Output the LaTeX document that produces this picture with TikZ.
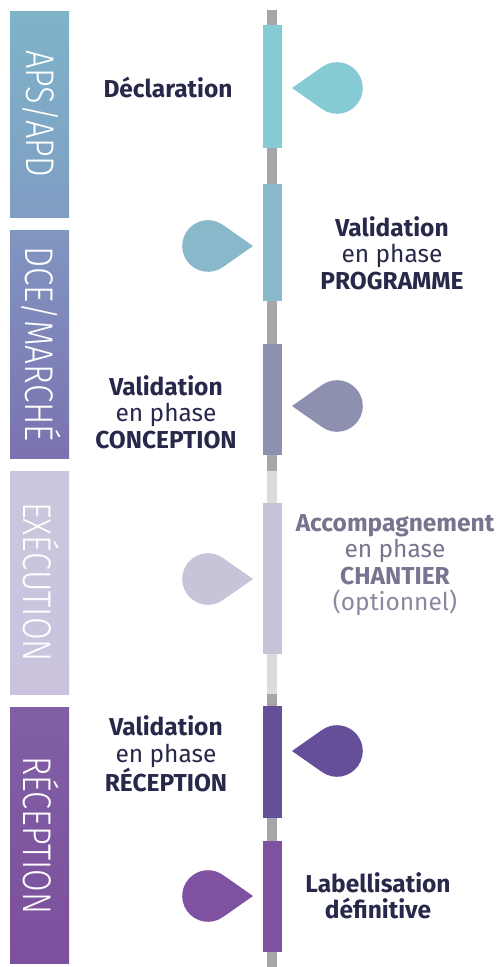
\documentclass[tikz,border=0pt]{standalone}
\usepackage{fontspec}
\setmainfont{Fira Sans}
\newfontfamily\lightfont{Fira Sans Light}
\usepackage{graphicx}
\definecolor{txtdark}{HTML}{27284A}
\definecolor{txtgray}{HTML}{77748F}
\definecolor{txtgrayl}{HTML}{8A879E}
\definecolor{linegray}{HTML}{A4A6A9}
\definecolor{linelight}{HTML}{DCDCDE}
\definecolor{cA}{HTML}{86CBD4}
\definecolor{cB}{HTML}{88B8C9}
\definecolor{cC}{HTML}{8E90B0}
\definecolor{cD}{HTML}{C5C4D8}
\definecolor{cE}{HTML}{654F98}
\definecolor{cF}{HTML}{7E52A0}
\tikzset{
  phaselbl/.style={rotate=-90, text=white, inner sep=0pt, anchor=center},
  bigtxt/.style={align=center, text=txtdark, inner sep=0pt, font=\fontsize{24.5}{26.5}\selectfont},
}
\newcommand{\dropR}[3]{% tip x, y, color : circle to the right
  \fill[#3] (#1,#2) -- ($(#1+45,#2)+(125.26:25.8)$) arc[start angle=125.26, end angle=-125.26, radius=25.8] -- cycle;}
\newcommand{\dropL}[3]{% tip x, y, color : circle to the left
  \fill[#3] (#1,#2) -- ($(#1-45,#2)+(54.74:25.8)$) arc[start angle=54.74, end angle=305.26, radius=25.8] -- cycle;}
\usetikzlibrary{calc}
\begin{document}
\begin{tikzpicture}[x=1pt,y=-1pt]
\useasboundingbox (0,0) rectangle (496,967);
% phase bands
\shade[top color={rgb,255:red,127;green,180;blue,201}, bottom color={rgb,255:red,127;green,157;blue,195}] (10,11) rectangle (69,217);
\shade[top color={rgb,255:red,129;green,150;blue,193}, bottom color={rgb,255:red,123;green,114;blue,176}] (10,230) rectangle (69,458);
\shade[top color={rgb,255:red,201;green,199;blue,221}, bottom color={rgb,255:red,203;green,195;blue,222}] (10,471) rectangle (69,694);
\shade[top color={rgb,255:red,128;green,96;blue,165}, bottom color={rgb,255:red,124;green,79;blue,156}] (10,707) rectangle (69,963);
\node[phaselbl] (p1) at (41,114) {\resizebox{127pt}{\height}{\fontsize{40}{40}\lightfont APS/APD}};
\node[phaselbl] (p2) at (41,344) {\resizebox{196pt}{\height}{\fontsize{40}{40}\lightfont DCE/MARCHÉ}};
\node[phaselbl] (p3) at (41,582) {\resizebox{160pt}{\height}{\fontsize{40}{40}\lightfont EXÉCUTION}};
\node[phaselbl] (p4) at (41,835) {\resizebox{158pt}{\height}{\fontsize{40}{40}\lightfont RÉCEPTION}};
% central line
\fill[linegray] (267,10) rectangle (277,471);
\fill[linelight] (267,471) rectangle (277,694);
\fill[linegray] (267,694) rectangle (277,967);
% bars
\fill[cA] (263,25) rectangle (282,148);
\fill[cB] (263,184) rectangle (282,301);
\fill[cC] (263,344) rectangle (282,455);
\fill[cD] (263,503) rectangle (282,654);
\fill[cE] (263,706) rectangle (282,818);
\fill[cF] (263,841) rectangle (282,952);
% drops
\dropR{292}{88}{cA}
\dropL{253}{246}{cB}
\dropR{292}{406}{cC}
\dropL{253}{579}{cD}
\dropR{292}{751}{cE}
\dropL{253}{896}{cF}
% texts
\node[bigtxt] (t1) at (168,87) {\bfseries Déclaration};
\node[bigtxt] (t2) at (392,253) {\bfseries Validation\\ en phase\\ \bfseries PROGRAMME};
\node[bigtxt] (t3) at (166,412) {\bfseries Validation\\ en phase\\ \bfseries CONCEPTION};
\node[bigtxt, text=txtgray] (t4) at (395,565) {\bfseries Accompagnement\\ en phase\\ \bfseries CHANTIER\\ \color{txtgrayl}(optionnel)};
\node[bigtxt] (t5) at (166,754) {\bfseries Validation\\ en phase\\ \bfseries RÉCEPTION};
\node[bigtxt] (t6) at (378,896) {\bfseries Labellisation\\ \bfseries définitive};
\end{tikzpicture}
\end{document}
